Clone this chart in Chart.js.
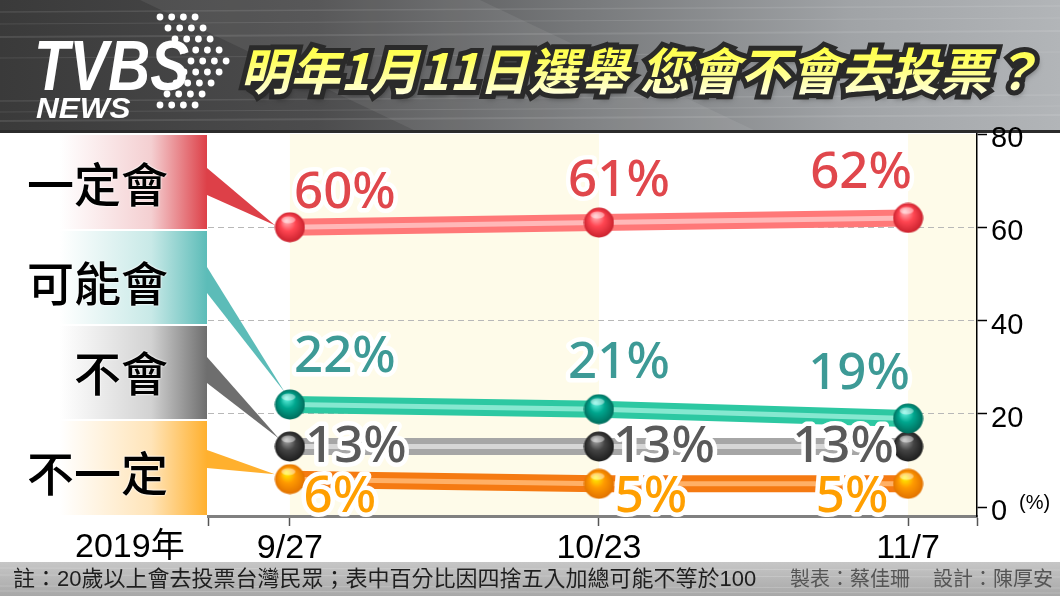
<!DOCTYPE html>
<html>
<head>
<meta charset="utf-8">
<script src="https://cdn.jsdelivr.net/npm/chart.js@4.4.1/dist/chart.umd.min.js"></script>
<style>
  html, body { margin: 0; padding: 0; background: #fff; }
  #wrap { position: relative; width: 1060px; height: 596px; overflow: hidden; }
  #c { position: absolute; left: 0; top: 0; }
  .txt { position: absolute; white-space: nowrap; }
  .logo { color: #fff; font-family: "Liberation Sans", Arial, sans-serif; font-weight: bold; font-style: italic; line-height: 1; transform-origin: left top; }
  .title { left: 240px; top: 43px; font-family: "Noto Sans CJK TC", sans-serif; font-weight: bold; font-style: italic; font-size: 50px; line-height: 1; }
  .title .stroke { position: absolute; left: 0; top: 0; color: #2a2a2a; -webkit-text-stroke: 10px #2a2a2a; text-shadow: 2px 4px 6px rgba(0,0,0,0.6); }
  .title .fill { position: relative; color: transparent; background: linear-gradient(#ffff2e 0%, #ffff60 40%, #ffffd8 85%, #ffffff 100%); -webkit-background-clip: text; background-clip: text; }
  .cat { width: 168px; left: 0; text-align: right; font-family: "Noto Sans CJK TC", sans-serif; font-weight: 500; font-size: 47px; line-height: 60px; height: 60px; color: #000; text-shadow: 0 0 2px #fff, 0 0 2px #fff; }
  .foot { top: 566px; font-family: "Liberation Sans", "Noto Sans CJK TC", sans-serif; line-height: 26px; }
</style>
</head>
<body>
<div id="wrap">
  <canvas id="c" width="1060" height="596"></canvas>

  <div class="txt logo" style="left:34px; top:31px; font-size:70px; transform:scaleX(0.83);">TVBS</div>
  <div class="txt logo" style="left:36px; top:93px; font-size:30px; transform:scaleX(1.05);">NEWS</div>

  <div class="txt title"><span class="stroke">明年1月11日選舉 您會不會去投票？</span><span class="fill">明年1月11日選舉 您會不會去投票？</span></div>

  <div class="txt cat" id="cat0" style="top:152px;"></div>
  <div class="txt cat" id="cat1" style="top:251px;"></div>
  <div class="txt cat" id="cat2" style="top:341px;"></div>
  <div class="txt cat" id="cat3" style="top:441px;"></div>

  <div class="txt" style="left:75px; top:525px; font-family:'Liberation Sans','Noto Sans CJK TC',sans-serif; font-size:34px; line-height:40px; color:#000;">2019年</div>
  <div class="txt" style="left:1019px; top:490px; font-family:'Liberation Sans',sans-serif; font-size:20px; line-height:24px; color:#000; text-shadow:0 0 2px #fff,0 0 2px #fff;">(%)</div>

  <div class="txt foot" style="left:13px; font-size:22px; color:#1e1e1e;">註：20歲以上會去投票台灣民眾；表中百分比因四捨五入加總可能不等於100</div>
  <div class="txt foot" style="left:790px; font-size:20px; color:#555;">製表：蔡佳珊</div>
  <div class="txt foot" style="left:933px; font-size:20px; color:#555;">設計：陳厚安</div>
</div>

<script>
// data
const dates = ['9/27', '10/23', '11/7'];
const seriesNames = ['一定會', '可能會', '不會', '不一定'];
const definitely = [60, 61, 62];
const probably = [22, 21, 19];
const notGoing = [13, 13, 13];
const unsure = [6, 5, 5];
const yTicks = [0, 20, 40, 60, 80];

const allSeries = [definitely, probably, notGoing, unsure];

// look of each series
const looks = [
  { line: '#ff7878', stripe: '#ffb8b8', ball: ['#ffb0b4', '#ff4652', '#c8202c'], text: '#e0474c', box: '#dd4048', boxMid: '#f4cfd1',
    wedge: [168, 195], tip: [-15, -2], dx: [55, 20, -47], dy: [-37, -45, -48] },
  { line: '#2dc8a2', stripe: '#86e8d0', ball: ['#5cf0dc', '#00a68e', '#006a5a'], text: '#3d9a96', box: '#5cbcb8', boxMid: '#c8e9e7',
    wedge: [267, 293], tip: [-5, -12], dx: [55, 20, -49], dy: [-51, -49, -48] },
  { line: '#a6a6a6', stripe: '#d6d6d6', ball: ['#a0a0a0', '#444444', '#1c1c1c'], text: '#5a5a5a', box: '#6e6e6e', boxMid: '#d2d2d2',
    wedge: [357, 383], tip: [-11, -8], dx: [66, 65, -65], dy: [-3, -3, -3] },
  { line: '#f57a12', stripe: '#ffb066', ball: ['#fff000', '#ff9a00', '#e07000'], text: '#ff9f00', box: '#ffb02e', boxMid: '#ffe4b8',
    wedge: [450, 468], tip: [-15, -5], dx: [50, 52, -56], dy: [15, 10, 10] }
];
const boxes = [[135, 229], [231, 324], [326, 419], [421, 515]];

seriesNames.forEach((n, i) => { document.getElementById('cat' + i).textContent = n; });

function sphere(c) {
  const s = 31, cv = document.createElement('canvas');
  cv.width = s; cv.height = s;
  const g = cv.getContext('2d');
  const rg = g.createRadialGradient(12, 9, 1, 15.5, 15.5, 15.5);
  rg.addColorStop(0, c[0]);
  rg.addColorStop(0.45, c[1]);
  rg.addColorStop(1, c[2]);
  g.fillStyle = rg;
  g.beginPath(); g.arc(15.5, 15.5, 15, 0, Math.PI * 2); g.fill();
  g.fillStyle = 'rgba(255,255,255,0.45)';
  g.beginPath(); g.ellipse(14, 8, 7, 3.5, 0, 0, Math.PI * 2); g.fill();
  return cv;
}

const datasets = [];
allSeries.forEach((vals, i) => {
  const pts = vals.map((v, k) => ({ x: k, y: v }));
  const lk = looks[i];
  datasets.push({ data: pts, borderColor: lk.line, borderWidth: 17, pointRadius: 0, tension: 0, order: 3 });
  datasets.push({ data: pts, borderColor: lk.stripe, borderWidth: 5, pointRadius: 0, tension: 0, order: 2 });
  datasets.push({ data: pts, showLine: false, pointStyle: sphere(lk.ball), pointRadius: 15, order: 1 });
});

function pointsOf(chart, i) {
  const meta = chart.getDatasetMeta(i * 3 + 2);
  return meta.data.map(p => ({ x: p.x, y: p.y }));
}

const backdrop = {
  id: 'backdrop',
  beforeDraw(chart) {
    const ctx = chart.ctx, a = chart.chartArea, xs = chart.scales.x;
    ctx.save();
    ctx.fillStyle = '#fff';
    ctx.fillRect(0, 0, 1060, 596);

    // header
    let g = ctx.createLinearGradient(0, 0, 1060, 0);
    g.addColorStop(0, '#3a3a3a');
    g.addColorStop(0.3, '#4c4c4d');
    g.addColorStop(0.55, '#77797b');
    g.addColorStop(0.8, '#a0a3a6');
    g.addColorStop(1, '#b2b5b8');
    ctx.fillStyle = g;
    ctx.fillRect(0, 0, 1060, 133);
    ctx.fillStyle = 'rgba(255,255,255,0.07)';
    ctx.beginPath(); ctx.moveTo(140, 0); ctx.lineTo(480, 0); ctx.lineTo(760, 133); ctx.lineTo(420, 133); ctx.fill();
    ctx.strokeStyle = 'rgba(255,255,255,0.10)';
    [[12, 1.5], [24, 1], [37, 2], [58, 1], [101, 1.5], [112, 1], [121, 2]].forEach(([y, w]) => {
      ctx.lineWidth = w; ctx.beginPath(); ctx.moveTo(0, y); ctx.lineTo(1060, y - 6); ctx.stroke();
    });
    ctx.fillStyle = '#2b2b2b';
    ctx.fillRect(0, 130, 1060, 3);

    // logo dots
    const offs = [0, 8, 15, 24, 31, 24, 16, 7, 0];
    ctx.fillStyle = '#fff';
    offs.forEach((o, r) => {
      for (let k = 0; k < 4; k++) {
        ctx.beginPath(); ctx.arc(160 + o + k * 11.7, 17 + r * 11, 3.4, 0, Math.PI * 2); ctx.fill();
      }
    });

    // footer
    g = ctx.createLinearGradient(0, 562, 0, 596);
    g.addColorStop(0, '#c6c6c6');
    g.addColorStop(1, '#a8a8a8');
    ctx.fillStyle = g;
    ctx.fillRect(0, 562, 1060, 34);
    ctx.strokeStyle = 'rgba(255,255,255,0.18)';
    ctx.lineWidth = 1;
    [568, 575, 586, 591].forEach(y => { ctx.beginPath(); ctx.moveTo(0, y); ctx.lineTo(1060, y + 2); ctx.stroke(); });

    // left boxes
    boxes.forEach((b, i) => {
      const gg = ctx.createLinearGradient(60, 0, 207, 0);
      gg.addColorStop(0, '#ffffff');
      gg.addColorStop(0.62, looks[i].boxMid);
      gg.addColorStop(1, looks[i].box);
      ctx.fillStyle = gg;
      ctx.fillRect(0, b[0], 207, b[1] - b[0]);
    });

    // pale bands
    ctx.fillStyle = '#fefbe9';
    const p0 = xs.getPixelForValue(0), p1 = xs.getPixelForValue(1), p2 = xs.getPixelForValue(2);
    ctx.fillRect(p0, a.top, p1 - p0, a.bottom - a.top);
    ctx.fillRect(p2, a.top, a.right - p2, a.bottom - a.top);
    ctx.restore();
  },
  beforeDatasetsDraw(chart) {
    const ctx = chart.ctx;
    ctx.save();
    looks.forEach((lk, i) => {
      const p = pointsOf(chart, i)[0];
      ctx.fillStyle = lk.box;
      ctx.beginPath();
      ctx.moveTo(207, lk.wedge[0]);
      ctx.lineTo(p.x + lk.tip[0], p.y + lk.tip[1]);
      ctx.lineTo(207, lk.wedge[1]);
      ctx.closePath();
      ctx.fill();
    });
    ctx.restore();
  },
  afterDatasetsDraw(chart) {
    const ctx = chart.ctx;
    ctx.save();
    ctx.font = '500 51px "Noto Sans", sans-serif';
    ctx.textAlign = 'center';
    ctx.textBaseline = 'alphabetic';
    ctx.lineJoin = 'round';
    allSeries.forEach((vals, i) => {
      const lk = looks[i];
      pointsOf(chart, i).forEach((p, k) => {
        const t = vals[k] + '%';
        const x = p.x + lk.dx[k], y = p.y + lk.dy[k] + 18;
        ctx.lineWidth = 9;
        ctx.strokeStyle = '#fff';
        ctx.strokeText(t, x, y);
        ctx.fillStyle = lk.text;
        ctx.fillText(t, x, y);
      });
    });
    ctx.restore();
  }
};

new Chart(document.getElementById('c'), {
  type: 'line',
  data: { datasets: datasets },
  options: {
    responsive: false,
    animation: false,
    layout: { padding: { left: 208, top: 134, right: 0, bottom: 0 } },
    plugins: { legend: { display: false }, tooltip: { enabled: false } },
    scales: {
      x: {
        type: 'linear',
        min: -0.265,
        max: 2.223,
        afterBuildTicks: s => { s.ticks = [s.min, 0, 1, 2, s.max].map(v => ({ value: v })); },
        afterFit: s => { s.height = 80; },
        ticks: {
          callback: v => dates[v] ?? '',
          font: { family: 'Liberation Sans', size: 34 },
          color: '#000',
          padding: 2,
          maxRotation: 0,
          autoSkip: false
        },
        grid: { drawOnChartArea: false, tickLength: 10, tickColor: '#555', tickWidth: 1.5 },
        border: { color: '#808080', width: 3 }
      },
      y: {
        position: 'right',
        min: -1.9,
        max: 80,
        afterBuildTicks: s => { s.ticks = yTicks.map(v => ({ value: v })); },
        afterFit: s => { s.width = 83; },
        ticks: { font: { family: 'Liberation Sans', size: 29 }, color: '#000', padding: 4, labelOffset: 5 },
        grid: {
          color: c => (c.tick && c.tick.value > 0 && c.tick.value < 80) ? '#b8b8b8' : 'rgba(0,0,0,0)',
          tickLength: 10,
          tickColor: '#000',
          tickWidth: 1.5
        },
        border: { color: '#000', width: 1.5, dash: [6, 4] }
      }
    }
  },
  plugins: [backdrop]
});
</script>
</body>
</html>
